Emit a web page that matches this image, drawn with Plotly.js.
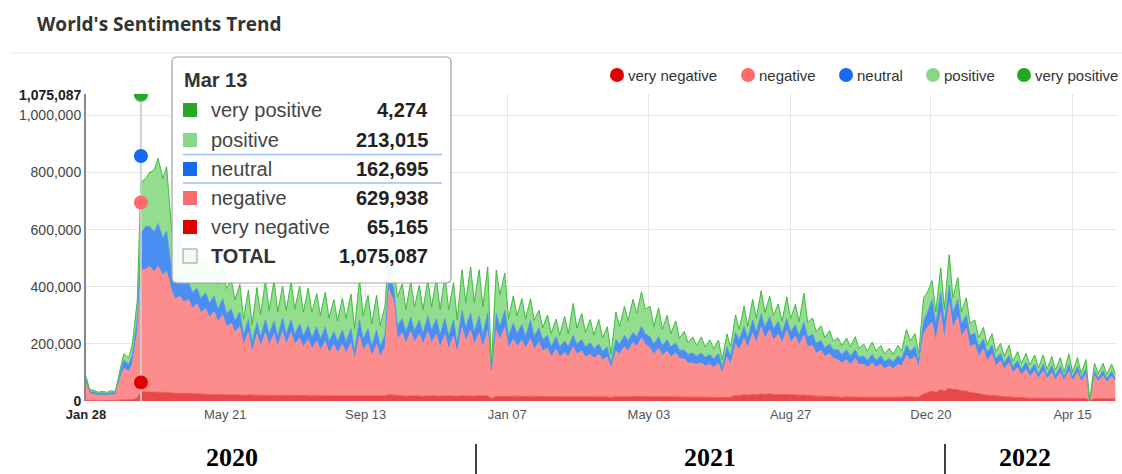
<!DOCTYPE html>
<html>
<head>
<meta charset="utf-8">
<script src="https://cdn.plot.ly/plotly-3.0.1.min.js"></script>
<style>
html,body{margin:0;padding:0;background:#fff;}
#chart{width:1122px;height:474px;}
</style>
</head>
<body>
<div id="chart"></div>
<script>
// ---------------- DATA (values in thousands; two readings per week: Tue, Fri) ----------------
const startDate = '2020-01-28';
const seriesNames = ['very negative', 'negative', 'neutral', 'positive', 'very positive'];

const veryNegative = [
  2,1, 1,1, 1,1, 1,1, 3,4,
  4,5, 10,32, 32,32, 32,32, 30,30,
  28,27, 27,26, 26,25, 25,24, 24,23,
  23,22, 22,21, 22,21, 21,20, 21,20,
  20,20, 20,19, 20,19, 20,19, 20,19,
  20,19, 19,18, 19,18, 19,18, 18,18,
  18,17, 18,17, 18,17, 18,17, 18,17,
  18,22, 20,18, 18,17, 18,17, 18,17,
  18,17, 18,17, 18,17, 18,17, 18,17,
  18,17, 18,17, 18,8, 17,15, 17,16,
  17,16, 17,16, 17,16, 16,15, 15,15,
  15,14, 15,14, 15,14, 15,14, 14,14,
  14,14, 14,12, 15,14, 15,15, 15,15,
  16,15, 15,14, 15,14, 14,14, 14,13,
  13,13, 13,13, 13,13, 13,12, 12,12,
  14,13, 20,19, 22,20, 24,22, 25,23,
  25,23, 24,22, 23,21, 22,20, 21,19,
  19,17, 17,16, 15,14, 14,13, 14,13,
  14,13, 13,13, 13,13, 13,13, 13,12,
  13,13, 15,14, 15,13, 25,28, 35,30,
  40,35, 45,40, 40,35, 35,30, 28,25,
  22,20, 20,18, 16,15, 14,13, 12,11,
  11,10, 10,10, 10,9, 10,9, 9,9,
  9,9, 9,8, 9,0, 8,8, 8,8,
  8,8
];
const negative = [
  60,25, 22,19, 20,18, 22,20, 75,110,
  100,125, 230,426, 430,440, 420,440, 410,425,
  360,330, 340,320, 330,300, 315,285, 300,270,
  290,255, 280,240, 250,220, 240,175, 220,150,
  215,170, 220,175, 215,170, 225,180, 220,180,
  200,170, 195,165, 190,160, 190,150, 180,150,
  180,150, 185,130, 210,160, 185,140, 180,140,
  170,370, 330,200, 220,185, 225,190, 215,180,
  225,185, 215,170, 215,165, 210,150, 240,195,
  230,180, 220,170, 230,85, 230,200, 240,170,
  200,175, 195,170, 200,165, 190,160, 170,140,
  165,140, 155,140, 175,150, 160,140, 150,135,
  150,130, 140,100, 160,150, 175,160, 190,175,
  205,185, 170,150, 170,145, 160,140, 155,135,
  135,120, 120,115, 120,110, 115,105, 120,85,
  140,115, 180,160, 197,165, 215,180, 235,195,
  225,190, 210,180, 225,185, 205,175, 210,170,
  175,150, 160,140, 150,135, 130,120, 130,115,
  135,115, 115,105, 120,105, 115,100, 110,100,
  115,110, 145,130, 140,105, 210,230, 240,180,
  270,180, 300,215, 255,190, 220,160, 170,130,
  160,120, 145,105, 125,95, 120,85, 105,80,
  100,75, 95,70, 95,68, 90,65, 90,62,
  95,62, 90,60, 85,0, 80,60, 80,58,
  78,60
];
const neutral = [
  15,9, 8,6, 7,7, 8,7, 20,28,
  25,30, 50,130, 150,140, 140,150, 130,140,
  75,70, 70,60, 60,55, 55,50, 55,50,
  55,45, 55,45, 50,40, 50,35, 45,35,
  40,35, 45,40, 45,35, 45,35, 45,35,
  50,40, 50,40, 50,40, 50,40, 45,40,
  50,40, 50,30, 55,40, 50,35, 50,35,
  45,50, 45,45, 50,40, 50,40, 50,40,
  55,45, 55,45, 55,45, 55,35, 60,45,
  60,45, 60,45, 60,15, 60,45, 60,40,
  55,45, 55,40, 65,45, 50,40, 45,35,
  45,35, 40,35, 40,35, 40,35, 40,35,
  35,30, 35,20, 40,35, 40,35, 35,35,
  40,35, 40,35, 40,35, 40,35, 35,30,
  30,30, 35,30, 35,30, 35,30, 35,20,
  35,30, 40,35, 42,35, 45,40, 45,40,
  45,40, 45,35, 40,35, 40,35, 45,35,
  40,35, 35,30, 35,30, 35,30, 35,30,
  30,25, 30,25, 30,25, 30,25, 25,25,
  30,25, 35,30, 35,25, 45,50, 80,60,
  70,60, 60,55, 60,45, 45,40, 40,35,
  35,30, 30,25, 25,25, 25,20, 25,20,
  25,20, 25,15, 25,15, 25,15, 22,14,
  25,14, 22,13, 20,0, 18,12, 18,12,
  18,12
];
const positive = [
  8,5, 5,4, 5,4, 5,4, 12,23,
  21,40, 60,175, 165,185, 215,225, 207,222,
  140,120, 130,110, 120,100, 115,95, 110,90,
  110,85, 110,85, 100,70, 95,55, 100,60,
  120,75, 135,80, 140,85, 110,80, 130,85,
  130,80, 130,85, 115,80, 120,80, 110,70,
  110,80, 120,75, 140,80, 115,75, 120,70,
  100,95, 80,100, 120,75, 125,80, 120,80,
  125,80, 140,85, 150,90, 130,80, 140,85,
  160,100, 160,95, 160,12, 150,110, 130,60,
  95,60, 90,60, 75,55, 60,40, 70,45,
  60,40, 85,45, 110,55, 90,50, 80,45,
  85,45, 70,30, 95,60, 100,70, 115,80,
  120,85, 105,60, 100,55, 85,45, 75,40,
  65,40, 55,35, 55,35, 50,35, 45,25,
  45,30, 60,35, 70,40, 70,45, 80,50,
  70,45, 60,40, 75,45, 70,45, 100,50,
  55,40, 50,35, 45,30, 40,30, 40,30,
  45,30, 40,30, 42,30, 35,25, 35,25,
  35,25, 55,35, 45,20, 80,70, 65,40,
  85,45, 105,50, 75,40, 60,40, 45,30,
  40,25, 40,25, 35,20, 35,20, 30,20,
  30,20, 30,20, 30,18, 30,18, 30,15,
  35,15, 30,15, 30,0, 25,15, 25,14,
  24,15
];
const veryPositive = [
  0.5,0.5, 0.5,0.5, 0.5,0.5, 0.5,0.5, 0.5,0.5,
  0.5,0.5, 1,3, 3,3, 3,3, 3,3,
  2.5,2.5, 2.5,2.5, 2.5,2.5, 2.5,2.5, 2.5,2.5,
  2.5,2.5, 2.5,2.5, 2.5,2.5, 2.5,2.5, 2.5,2.5,
  2.5,2.5, 2.5,2.5, 2.5,2.5, 2.5,2.5, 2.5,2.5,
  2,2, 2,2, 2,2, 2,2, 2,2,
  2,2, 2,2, 2,2, 2,2, 2,2,
  2,2, 2,2, 2,2, 2,2, 2,2,
  2,2, 2,2, 2,2, 2,2, 2,2,
  2,2, 2,2, 2,0.5, 1.5,1.5, 1.5,1.5,
  1.5,1.5, 1.5,1.5, 1.5,1.5, 1.5,1.5, 1.5,1.5,
  1.5,1.5, 1.5,1.5, 1.5,1.5, 1.5,1.5, 1.5,1.5,
  1.5,1.5, 1.5,1.5, 1.5,1.5, 1.5,1.5, 1.5,1.5,
  1.5,1.5, 1.5,1.5, 1.5,1.5, 1.5,1.5, 1.5,1.5,
  1.5,1.5, 1.5,1.5, 1.5,1.5, 1.5,1.5, 1.5,1.5,
  1.5,1.5, 1.5,1.5, 1.5,1.5, 1.5,1.5, 1.5,1.5,
  1.5,1.5, 1.5,1.5, 1.5,1.5, 1.5,1.5, 1.5,1.5,
  1.5,1.5, 1.5,1.5, 1.5,1.5, 1.5,1.5, 1.5,1.5,
  1.5,1.5, 1.5,1.5, 1.5,1.5, 1.5,1.5, 1.5,1.5,
  1.5,1.5, 1.5,1.5, 1.5,1.5, 2,2, 2,2,
  2,2, 2,2, 2,2, 2,2, 1,1,
  1,1, 1,1, 1,1, 1,1, 1,1,
  1,1, 1,1, 1,1, 1,1, 1,1,
  1,1, 1,1, 1,0, 1,1, 1,1,
  1,1
];

// Hovered day shown in the tooltip (stack order bottom -> top)
const tipDate = '2020-03-13';
const tipTitle = 'Mar 13';
const tipValues = [65165, 629938, 162695, 213015, 4274];

// Axis ticks
const tickDates = ['2020-01-28', '2020-05-21', '2020-09-13', '2021-01-07', '2021-05-03', '2021-08-27', '2021-12-20', '2022-04-15'];
const tickLabels = ['Jan 28', 'May 21', 'Sep 13', 'Jan 07', 'May 03', 'Aug 27', 'Dec 20', 'Apr 15'];
const yTicks = [0, 200000, 400000, 600000, 800000, 1000000];
const yearLabels = ['2020', '2021', '2022'];

// ---------------- STYLE ----------------
const areaColors = ['#e94848', '#fd8d8d', '#4a8df3', '#92dd8e', '#2fb52f'];
const dotColors = ['#e00000', '#ff6b6b', '#1769f2', '#86d886', '#25a925'];

const W = 1122, H = 474, L = 86, R = 5, T = 94, B = 73;
const pw = W - L - R, ph = H - T - B;
const px = x => (x - L) / pw;
const py = y => (H - B - y) / ph;

const DAY = 86400000;
const t0 = Date.UTC(2020, 0, 28);
const fmt = ms => new Date(ms).toISOString().replace('T', ' ').slice(0, 19);
const dates = veryNegative.map((_, i) => fmt(t0 + (7 * Math.floor(i / 2) + (i % 2) * 3) * DAY));
const endDate = fmt(t0 + 844.4 * DAY);

const yMax = tipValues.reduce((a, b) => a + b, 0);
const fmtNum = v => v.toLocaleString('en-US');

const traces = [];
[veryNegative, negative, neutral, positive, veryPositive].forEach((arr, k) => {
  traces.push({
    type: 'scatter', mode: 'lines', x: dates, y: arr.map(v => v * 1000),
    stackgroup: 'one', name: seriesNames[k],
    line: {width: 0.8, color: areaColors[k], shape: 'linear'},
    fillcolor: areaColors[k], hoverinfo: 'skip', showlegend: false
  });
});
// hover guide line
traces.push({
  type: 'scatter', mode: 'lines', x: [tipDate, tipDate], y: [0, yMax],
  line: {color: 'rgba(205,205,205,0.9)', width: 2}, hoverinfo: 'skip', showlegend: false
});
// hover dots at cumulative values
const cum = [];
tipValues.reduce((acc, v) => { cum.push(acc + v); return acc + v; }, 0);
traces.push({
  type: 'scatter', mode: 'markers', x: cum.map(() => tipDate), y: cum,
  marker: {size: 14, color: dotColors, line: {width: 0}},
  hoverinfo: 'skip', showlegend: false, cliponaxis: true
});

const shapes = [];
const annotations = [];
const FONT = 'Arial, "Liberation Sans", sans-serif';

// title separator
shapes.push({type: 'line', xref: 'paper', yref: 'paper', x0: px(10), x1: px(1122), y0: py(53), y1: py(53),
  line: {color: '#e6e6e6', width: 1}});

// legend (custom, circles + labels)
const legendX = [617, 748, 846, 933, 1024];
const legendY = 75;
seriesNames.forEach((n, k) => {
  const cx = legendX[k];
  shapes.push({type: 'circle', xref: 'paper', yref: 'paper', x0: px(cx - 7), x1: px(cx + 7),
    y0: py(legendY + 7), y1: py(legendY - 7), fillcolor: dotColors[k], line: {width: 0}});
  annotations.push({xref: 'paper', yref: 'paper', x: px(cx + 8.5), y: py(legendY), xanchor: 'left', yanchor: 'middle',
    text: n, showarrow: false, font: {family: FONT, size: 15, color: '#333'}});
});

// max label on y axis
annotations.push({xref: 'paper', yref: 'paper', x: px(83), y: py(95), xanchor: 'right', yanchor: 'middle',
  text: '<b>' + fmtNum(yMax) + '</b>', showarrow: false, font: {family: FONT, size: 14, color: '#222'}});

// tooltip box
function roundRect(x0, y0, x1, y1, r) {
  const P = (x, y) => px(x) + ',' + py(y);
  return 'M' + P(x0 + r, y0) + ' L' + P(x1 - r, y0) + ' Q' + P(x1, y0) + ' ' + P(x1, y0 + r) +
    ' L' + P(x1, y1 - r) + ' Q' + P(x1, y1) + ' ' + P(x1 - r, y1) +
    ' L' + P(x0 + r, y1) + ' Q' + P(x0, y1) + ' ' + P(x0, y1 - r) +
    ' L' + P(x0, y0 + r) + ' Q' + P(x0, y0) + ' ' + P(x0 + r, y0) + ' Z';
}
shapes.push({type: 'path', xref: 'paper', yref: 'paper', path: roundRect(172, 57, 451, 283, 5),
  fillcolor: 'rgba(255,255,255,0.93)', line: {color: '#a0a0a0', width: 1.2}, layer: 'above'});

annotations.push({xref: 'paper', yref: 'paper', x: px(182), y: py(80), xanchor: 'left', yanchor: 'middle',
  text: '<b>' + tipTitle + '</b>', showarrow: false, font: {family: FONT, size: 20, color: '#333'}});

const rowY = [110, 140, 169, 198, 227, 256];
const order = [4, 3, 2, 1, 0];
order.forEach((k, r) => {
  const yc = rowY[r];
  shapes.push({type: 'rect', xref: 'paper', yref: 'paper', x0: px(183), x1: px(197), y0: py(yc + 7), y1: py(yc - 7),
    fillcolor: dotColors[k], line: {width: 0}, layer: 'above'});
  annotations.push({xref: 'paper', yref: 'paper', x: px(209), y: py(yc), xanchor: 'left', yanchor: 'middle',
    text: seriesNames[k], showarrow: false, font: {family: FONT, size: 20, color: '#444'}});
  annotations.push({xref: 'paper', yref: 'paper', x: px(430), y: py(yc), xanchor: 'right', yanchor: 'middle',
    text: '<b>' + fmtNum(tipValues[k]) + '</b>', showarrow: false, font: {family: FONT, size: 20, color: '#222'}});
});
// TOTAL row
const ty = rowY[5];
shapes.push({type: 'rect', xref: 'paper', yref: 'paper', x0: px(183), x1: px(197), y0: py(ty + 7), y1: py(ty - 7),
  fillcolor: '#f4f8f4', line: {width: 1, color: '#999'}, layer: 'above'});
annotations.push({xref: 'paper', yref: 'paper', x: px(209), y: py(ty), xanchor: 'left', yanchor: 'middle',
  text: '<b>TOTAL</b>', showarrow: false, font: {family: FONT, size: 20, color: '#333'}});
annotations.push({xref: 'paper', yref: 'paper', x: px(430), y: py(ty), xanchor: 'right', yanchor: 'middle',
  text: '<b>' + fmtNum(yMax) + '</b>', showarrow: false, font: {family: FONT, size: 20, color: '#222'}});
// separators around neutral row
[154.5, 183].forEach(yy => shapes.push({type: 'line', xref: 'paper', yref: 'paper', x0: px(183), x1: px(442),
  y0: py(yy), y1: py(yy), line: {color: '#9dbff5', width: 1.5}, layer: 'above'}));

// year band below the axis
const yearX = [232, 710, 1025];
yearLabels.forEach((t, k) => annotations.push({xref: 'paper', yref: 'paper', x: px(yearX[k]), y: py(457),
  xanchor: 'center', yanchor: 'middle', text: '<b>' + t + '</b>', showarrow: false, borderpad: 0,
  font: {family: '"Liberation Serif", "DejaVu Serif", serif', size: 26, color: '#000'}}));
[476, 945].forEach(xx => shapes.push({type: 'line', xref: 'paper', yref: 'paper', x0: px(xx), x1: px(xx),
  y0: py(444), y1: py(474), line: {color: '#000', width: 1.5}}));

const layout = {
  width: W, height: H,
  margin: {l: L, r: R, t: T, b: B, pad: 0},
  paper_bgcolor: '#fff', plot_bgcolor: '#fff',
  showlegend: false,
  title: {text: "<b>World's Sentiments Trend</b>", x: 37 / W, xanchor: 'left', xref: 'container',
    y: 1 - 24 / H, yanchor: 'middle', yref: 'container',
    font: {family: '"Open Sans", "Noto Sans", sans-serif', size: 19, color: '#333'}},
  xaxis: {
    type: 'date', range: [dates[0], endDate],
    tickmode: 'array', tickvals: tickDates,
    ticktext: tickLabels.map((t, i) => i === 0 ? '<span style="color:#222"><b>' + t + '</b></span>' : t),
    tickfont: {family: FONT, size: 13, color: '#555'},
    ticklabelstandoff: 4,
    showgrid: true, gridcolor: '#e6e6e6', gridwidth: 1,
    zeroline: false, showline: false, ticks: '', fixedrange: true
  },
  yaxis: {
    range: [0, yMax], tickmode: 'array', tickvals: yTicks,
    ticktext: yTicks.map(v => v === 0 ? '<span style="color:#222"><b>0</b></span>' : fmtNum(v)),
    tickfont: {family: FONT, size: 14, color: '#444'},
    showgrid: true, gridcolor: '#e6e6e6', gridwidth: 1,
    zeroline: false, showline: true, linecolor: '#8a8a8a', linewidth: 2,
    ticks: '', fixedrange: true
  },
  shapes: shapes,
  annotations: annotations,
  hovermode: false
};

Plotly.newPlot('chart', traces, layout, {displayModeBar: false, staticPlot: true});
</script>
</body>
</html>
